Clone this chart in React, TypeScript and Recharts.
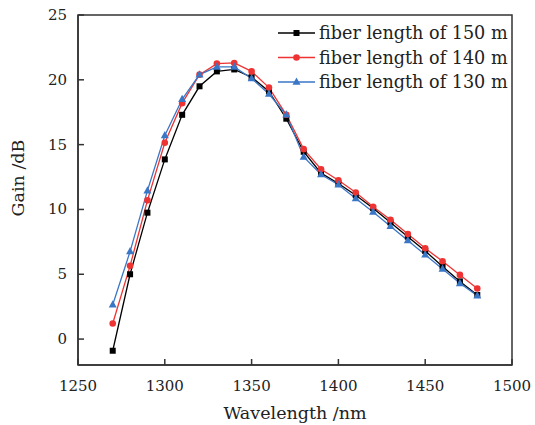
import React from "react";
import { LineChart, Line, XAxis, YAxis, ReferenceArea } from "recharts";

const wavelengths = [1270, 1280, 1290, 1300, 1310, 1320, 1330, 1340, 1350, 1360, 1370, 1380, 1390, 1400, 1410, 1420, 1430, 1440, 1450, 1460, 1470, 1480];
const gain150 = [-0.9, 5.0, 9.75, 13.86, 17.3, 19.5, 20.65, 20.8, 20.2, 19.1, 17.0, 14.45, 12.8, 12.0, 11.1, 10.1, 9.0, 7.9, 6.8, 5.6, 4.45, 3.4];
const gain140 = [1.2, 5.65, 10.7, 15.14, 18.2, 20.4, 21.25, 21.3, 20.65, 19.4, 17.3, 14.65, 13.1, 12.25, 11.3, 10.2, 9.2, 8.1, 7.0, 6.0, 4.95, 3.9];
const gain130 = [2.65, 6.75, 11.45, 15.7, 18.5, 20.4, 21.0, 21.0, 20.1, 18.9, 17.3, 14.05, 12.7, 11.9, 10.85, 9.8, 8.7, 7.6, 6.5, 5.4, 4.3, 3.35];
const xTicks = [1250, 1300, 1350, 1400, 1450, 1500];
const yTicks = [0, 5, 10, 15, 20, 25];
const seriesNames = ["fiber length of 150 m", "fiber length of 140 m", "fiber length of 130 m"];

const data = wavelengths.map((w, i) => ({ w, a: gain150[i], b: gain140[i], c: gain130[i] }));

const FONT = "DejaVu Serif";
const AXIS = "#333";
const BLACK = "#000000";
const RED = "#ee3333";
const BLUE = "#3a76c6";

const Square = (props: any) => {
  const { cx, cy } = props;
  if (cx == null || cy == null) return null;
  return <rect x={cx - 3} y={cy - 3} width={6} height={6} fill={BLACK} />;
};
const Circle = (props: any) => {
  const { cx, cy } = props;
  if (cx == null || cy == null) return null;
  return <circle cx={cx} cy={cy} r={3.3} fill={RED} />;
};
const Tri = (props: any) => {
  const { cx, cy } = props;
  if (cx == null || cy == null) return null;
  return <polygon points={`${cx},${cy - 4.5} ${cx - 4},${cy + 2.8} ${cx + 4},${cy + 2.8}`} fill={BLUE} />;
};

const XTick = (props: any) => {
  const { x, y, payload } = props;
  return (
    <g>
      <line x1={x} y1={y} x2={x} y2={y - 6} stroke={AXIS} strokeWidth={1.5} />
      <text x={x} y={y + 26} textAnchor="middle" fontFamily={FONT} fontSize={15} fill="#222">{payload.value}</text>
    </g>
  );
};
const YTick = (props: any) => {
  const { x, y, payload } = props;
  return (
    <g>
      <line x1={x} y1={y} x2={x + 6} y2={y} stroke={AXIS} strokeWidth={1.5} />
      <text x={x - 11} y={y + 5} textAnchor="end" fontFamily={FONT} fontSize={15} fill="#222">{payload.value}</text>
    </g>
  );
};

const markers = [
  (x: number, y: number) => <rect x={x - 3} y={y - 3} width={6} height={6} fill={BLACK} />,
  (x: number, y: number) => <circle cx={x} cy={y} r={3.3} fill={RED} />,
  (x: number, y: number) => <polygon points={`${x},${y - 4.5} ${x - 4},${y + 2.8} ${x + 4},${y + 2.8}`} fill={BLUE} />,
];
const colors = [BLACK, RED, BLUE];

const LegendBox = () => (
  <svg width={250} height={80} style={{ position: "absolute", left: 278, top: 21 }}>
    {seriesNames.map((n, i) => {
      const y = 12 + i * 24.5;
      return (
        <g key={n}>
          <line x1={0} y1={y} x2={37} y2={y} stroke={colors[i]} strokeWidth={1.3} />
          {markers[i](18.5, y)}
          <text x={41} y={y + 6} fontFamily={FONT} fontSize={17.6} fill="#222">{n}</text>
        </g>
      );
    })}
  </svg>
);

export default function App() {
  return (
    <div style={{ position: "absolute", left: 0, top: 0, width: 535, height: 425, background: "#fff" }}>
      <LineChart width={535} height={425} data={data} margin={{ top: 15, right: 23, bottom: 0, left: 0 }}>
        <XAxis
          dataKey="w"
          type="number"
          domain={[1250, 1500]}
          ticks={xTicks}
          tick={<XTick />}
          tickSize={0}
          tickMargin={0}
          height={60}
          stroke={AXIS}
          strokeWidth={1.5}
          interval={0}
          allowDataOverflow
          label={{ value: "Wavelength /nm", position: "insideBottom", offset: 6, fontFamily: FONT, fontSize: 17.5, fill: "#222" }}
        />
        <YAxis
          type="number"
          domain={[-2, 25]}
          ticks={yTicks}
          tick={<YTick />}
          tickSize={0}
          tickMargin={0}
          width={78}
          stroke={AXIS}
          strokeWidth={1.5}
          interval={0}
          allowDataOverflow
          label={{ value: "Gain /dB", angle: -90, position: "insideLeft", offset: 18, dy: -12, fontFamily: FONT, fontSize: 17.5, fill: "#222", style: { textAnchor: "middle" } }}
        />
        <ReferenceArea x1={1250} x2={1500} y1={-2} y2={25} fill="none" stroke={AXIS} strokeWidth={1.5} ifOverflow="visible" />
        <Line dataKey="a" stroke={BLACK} strokeWidth={1.3} dot={<Square />} isAnimationActive={false} />
        <Line dataKey="b" stroke={RED} strokeWidth={1.3} dot={<Circle />} isAnimationActive={false} />
        <Line dataKey="c" stroke={BLUE} strokeWidth={1.3} dot={<Tri />} isAnimationActive={false} />
      </LineChart>
      <LegendBox />
    </div>
  );
}
